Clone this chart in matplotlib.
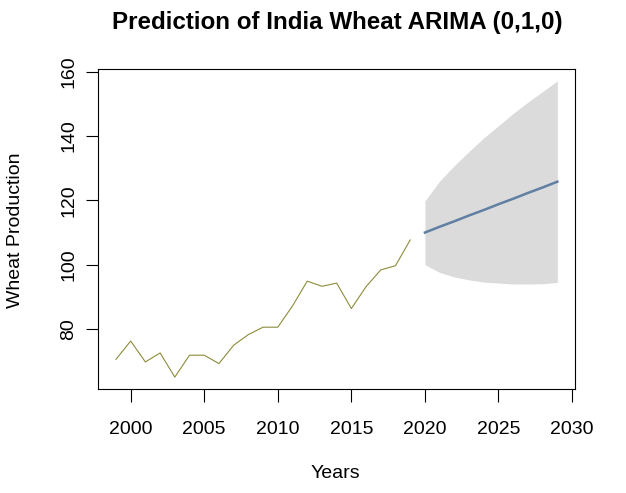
import matplotlib
matplotlib.use("Agg")
import matplotlib.pyplot as plt

plt.rcParams['font.family'] = ['Liberation Sans', 'DejaVu Sans']

years_hist = [1999, 2000, 2001, 2002, 2003, 2004, 2005, 2006, 2007, 2008,
              2009, 2010, 2011, 2012, 2013, 2014, 2015, 2016, 2017, 2018, 2019]
production = [70.6, 76.3, 69.8, 72.6, 65.1, 71.9, 71.9, 69.3, 75.0, 78.3,
              80.6, 80.6, 87.2, 94.9, 93.3, 94.3, 86.4, 93.2, 98.4, 99.7, 107.7]

years_fc = [2020, 2021, 2022, 2023, 2024, 2025, 2026, 2027, 2028, 2029]
fc_mean = [110.0, 111.8, 113.5, 115.3, 117.0, 118.8, 120.5, 122.3, 124.0, 125.8]
fc_upper = [119.8, 126.0, 130.8, 135.2, 139.4, 143.2, 147.0, 150.5, 153.8, 157.1]
fc_lower = [100.0, 97.6, 96.2, 95.3, 94.6, 94.3, 94.0, 94.0, 94.1, 94.5]

xticks = [2000, 2005, 2010, 2015, 2020, 2025, 2030]
yticks = [80, 100, 120, 140, 160]

fig = plt.figure(figsize=(6.26, 4.93), dpi=100)
ax = fig.add_axes([98.3/626, 1-389/493, (575-98.3)/626, (389-69)/493])

ax.fill_between(years_fc, fc_lower, fc_upper, color='#DBDBDB', linewidth=0)
ax.plot(years_hist, production, color='#8C8C3C', linewidth=0.8)
ax.plot(years_fc, fc_mean, color='#5F7FA3', linewidth=1.8)

ax.set_xlim(1997.8, 2030.2)
ax.set_ylim(61.4, 160.8)
ax.set_xticks(xticks)
ax.set_yticks(yticks)
ax.set_yticklabels([str(v) for v in yticks], rotation=90, va='center')
ax.tick_params(axis='both', labelsize=14, length=9, width=0.8, colors='black')
ax.tick_params(axis='x', pad=14)
ax.tick_params(axis='y', pad=6)
for s in ax.spines.values():
    s.set_linewidth(0.8)
    s.set_color('black')

fig.text(337/626, 1-22/493, 'Prediction of India Wheat ARIMA (0,1,0)',
         ha='center', va='center', fontsize=17.4, fontweight='bold')
fig.text(335/626, 1-473/493, 'Years', ha='center', va='center', fontsize=14)
fig.text(16/626, 1-230/493, 'Wheat Production', ha='center', va='center',
         fontsize=14, rotation=90)

fig.savefig('out.png', dpi=100)
